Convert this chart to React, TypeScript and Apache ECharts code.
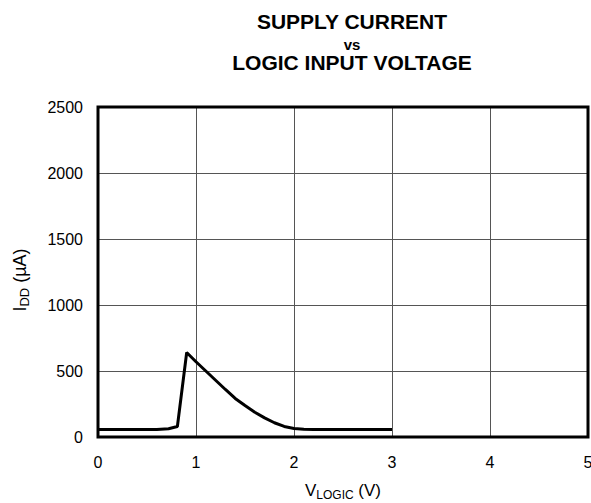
import React, { useEffect, useRef } from "react";
import * as echarts from "echarts";

const vLogic = [0, 0.6, 0.72, 0.81, 0.905, 1.0, 1.1, 1.2, 1.3, 1.4, 1.5, 1.6, 1.7, 1.8, 1.9, 2.0, 2.1, 2.2, 2.5, 3.0];
const iDD = [57, 57, 63, 80, 640, 570, 500, 430, 360, 292, 238, 188, 145, 108, 80, 65, 59, 57, 57, 57];
const xTicks = [0, 1, 2, 3, 4, 5];
const yTicks = [0, 500, 1000, 1500, 2000, 2500];
const titleLines = ["SUPPLY CURRENT", "vs", "LOGIC INPUT VOLTAGE"];

const FONT = "Liberation Sans, Arial, sans-serif";

export default function App() {
  const ref = useRef<HTMLDivElement>(null);
  useEffect(() => {
    if (!ref.current) return;
    const chart = echarts.init(ref.current, undefined, { renderer: "svg" });
    chart.setOption({
      animation: false,
      backgroundColor: "#ffffff",
      textStyle: { fontFamily: FONT },
      graphic: [
        {
          type: "text",
          style: {
            x: 352, y: 21.5, text: titleLines[0], align: "center", verticalAlign: "middle",
            fontFamily: FONT, fontWeight: "bold", fontSize: 21, fill: "#000",
          },
        },
        {
          type: "text",
          style: {
            x: 352, y: 44, text: titleLines[1], align: "center", verticalAlign: "middle",
            fontFamily: FONT, fontWeight: "bold", fontSize: 15, fill: "#000",
          },
        },
        {
          type: "text",
          style: {
            x: 352, y: 62.5, text: titleLines[2], align: "center", verticalAlign: "middle",
            fontFamily: FONT, fontWeight: "bold", fontSize: 21, fill: "#000",
          },
        },
      ],
      grid: {
        left: 98,
        right: 3,
        top: 107,
        bottom: 66,
        show: true,
        borderColor: "#000",
        borderWidth: 3,
        backgroundColor: "transparent",
        containLabel: false,
        outerBoundsMode: "none",
        z: 3,
      },
      xAxis: {
        type: "value",
        min: xTicks[0],
        max: xTicks[xTicks.length - 1],
        interval: 1,
        axisLine: { show: false },
        axisTick: { show: false },
        axisLabel: { color: "#000", fontSize: 16, fontFamily: FONT, margin: 17 },
        splitLine: { show: true, showMinLine: false, showMaxLine: false, lineStyle: { color: "#555", width: 1 } },
        name: "{m|V}{s|LOGIC}{m| (V)}",
        nameLocation: "middle",
        nameGap: 42,
        nameTextStyle: {
          rich: {
            m: { fontSize: 17, fontFamily: FONT, color: "#000", lineHeight: 22 },
            s: { fontSize: 12, fontFamily: FONT, color: "#000", lineHeight: 12, verticalAlign: "bottom" },
          },
        },
      },
      yAxis: {
        type: "value",
        min: yTicks[0],
        max: yTicks[yTicks.length - 1],
        interval: 500,
        axisLine: { show: false },
        axisTick: { show: false },
        axisLabel: { color: "#000", fontSize: 16, fontFamily: FONT, margin: 15, formatter: (v: number) => String(v) },
        splitLine: { show: true, showMinLine: false, showMaxLine: false, lineStyle: { color: "#555", width: 1 } },
        name: "{m|I}{s|DD}{m| (µA)}",
        nameLocation: "middle",
        nameRotate: 90,
        nameGap: 67,
        nameTextStyle: {
          padding: [0, 16, 0, 0],
          rich: {
            m: { fontSize: 18, fontFamily: FONT, color: "#000", lineHeight: 22 },
            s: { fontSize: 13, fontFamily: FONT, color: "#000", lineHeight: 12, verticalAlign: "bottom" },
          },
        },
      },
      series: [
        {
          type: "line",
          data: vLogic.map((v, i) => [v, iDD[i]]),
          showSymbol: false,
          symbol: "none",
          lineStyle: { color: "#000", width: 3 },
          smooth: false,
          z: 5,
        },
      ],
    });
    return () => chart.dispose();
  }, []);
  return <div ref={ref} style={{ width: 591, height: 503, position: "absolute", left: 0, top: 0 }} />;
}
